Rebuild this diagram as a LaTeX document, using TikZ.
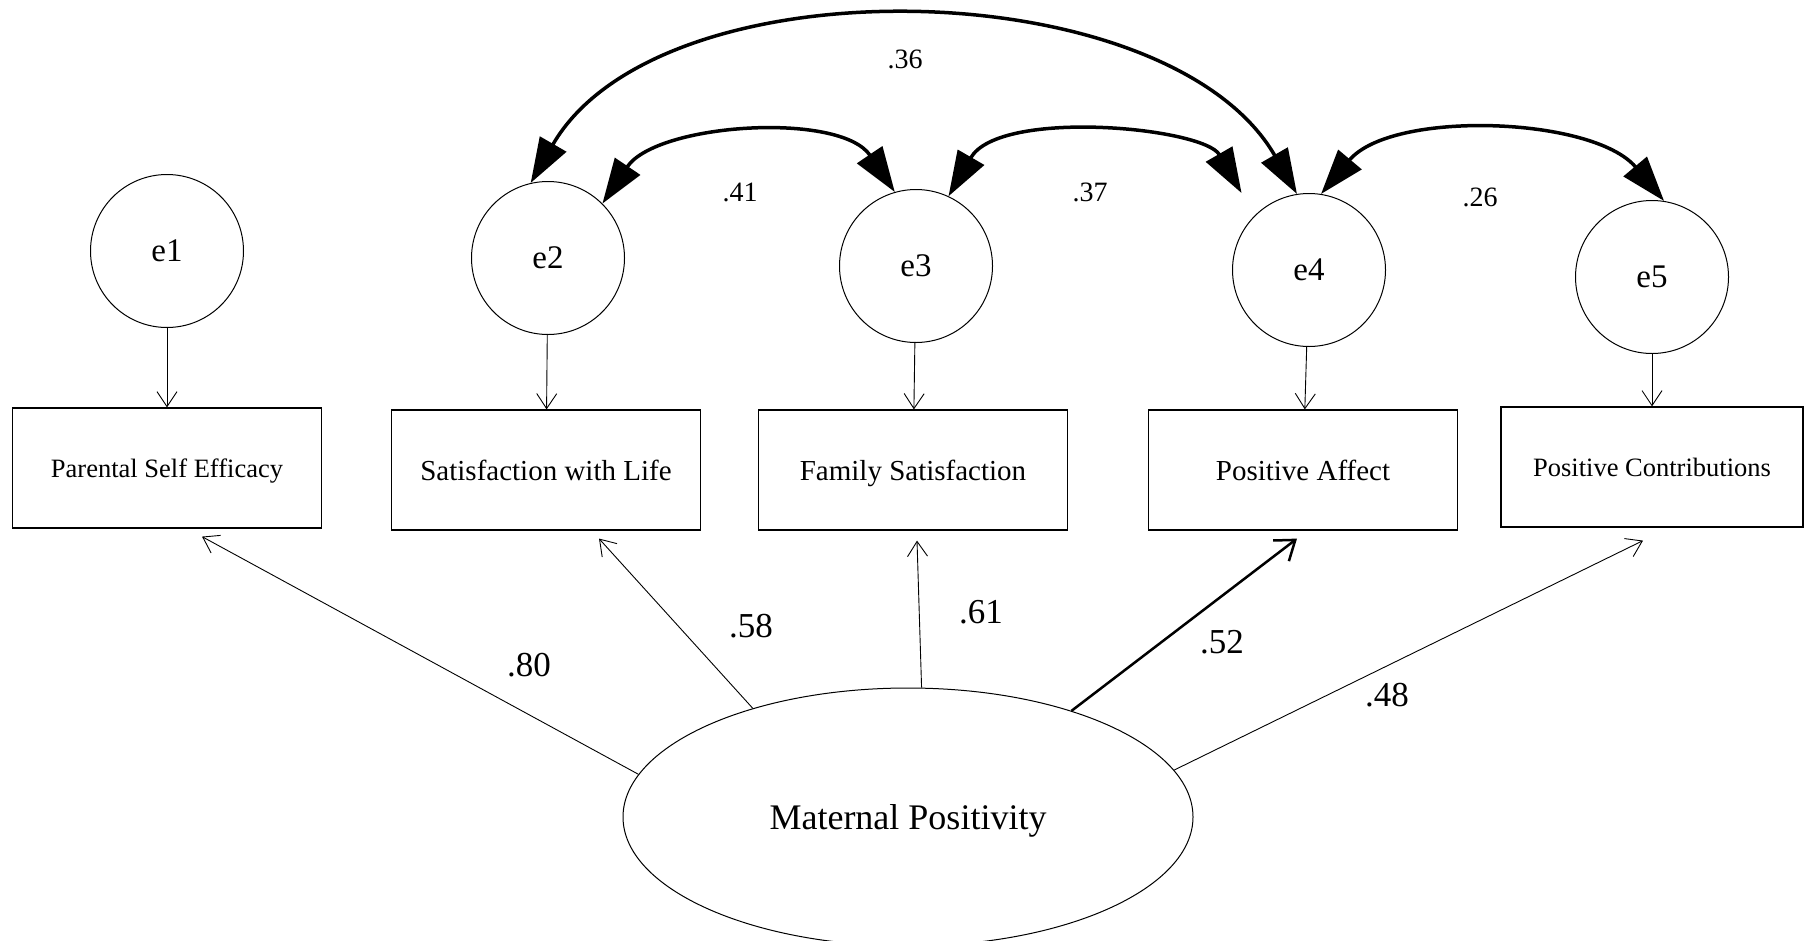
\documentclass[tikz,border=0pt]{standalone}
\usepackage{fontspec}
\setmainfont{Liberation Serif}
\usetikzlibrary{shapes.geometric}
\usetikzlibrary{arrows.meta}

\begin{document}
\begin{tikzpicture}
		[x=1pt, y=1pt,
		err/.style={circle, draw=black, line width=1pt, minimum size=153pt, inner sep=0pt, font=\fontsize{33}{38}\selectfont},
		ind/.style={rectangle, draw=black, line width=1.2pt, minimum width=309pt, minimum height=120pt, inner sep=0pt, text depth=0pt, font=\fontsize{29}{34}\selectfont},
		smalltext/.style={font=\fontsize{26.5}{31}\selectfont},
		loadarrow/.style={line width=0.9pt, -{Straight Barb[length=15pt, width=20pt]}},
		cov/.style={line width=3.5pt, {Triangle[length=45pt, width=30pt]}-{Triangle[length=45pt, width=30pt]}},
		coef/.style={font=\fontsize{35}{40}\selectfont},
		corr/.style={font=\fontsize{28}{32}\selectfont}]
		\useasboundingbox (0,0) rectangle (1804,-940);

		\node[err] (e1) at (167,-251) {e1};
		\node[err] (e2) at (548,-258) {e2};
		\node[err] (e3) at (916,-266) {e3};
		\node[err] (e4) at (1309,-270) {e4};
		\node[err] (e5) at (1652,-277) {e5};

		\node[ind, smalltext] (b1) at (167,-468) {Parental Self Efficacy};
		\node[ind] (b2) at (546,-470) {Satisfaction with Life};
		\node[ind] (b3) at (913,-470) {Family Satisfaction};
		\node[ind] (b4) at (1303,-470) {Positive Affect};
		\node[ind, smalltext, minimum width=302pt] (b5) at (1652,-467) {Positive Contributions};

		\node[ellipse, draw=black, line width=1pt, minimum width=570pt, minimum height=258pt, inner sep=0pt, text depth=0pt,
			font=\fontsize{36}{40}\selectfont] (mp) at (908,-817) {Maternal Positivity};

		\draw[loadarrow] (e1) -- (b1);
		\draw[loadarrow] (e2) -- (b2);
		\draw[loadarrow] (e3) -- (b3);
		\draw[loadarrow] (e4) -- (b4);
		\draw[loadarrow] (e5) -- (b5);

		\coordinate (t1) at ([shift={(35,-8)}]b1.south);
		\coordinate (t2) at ([shift={(53,-8)}]b2.south);
		\coordinate (t3) at ([shift={(4,-10)}]b3.south);
		\coordinate (t4) at ([shift={(-6,-8)}]b4.south);
		\coordinate (t5) at ([shift={(-9,-13)}]b5.south);

		\draw[loadarrow] (mp.171) -- (t1);
		\draw[loadarrow] (mp.145) -- (t2);
		\draw[loadarrow] (mp.84) -- (t3);
		\draw[line width=2.5pt, -{Straight Barb[length=18pt, width=26pt]}] (mp.33) -- (t4);
		\draw[loadarrow] (mp.10) -- (t5);

		\node[coef] (l80) at (529,-665) {.80};
		\node[coef] (l58) at (751,-626) {.58};
		\node[coef] (l61) at (981,-612) {.61};
		\node[coef] (l52) at (1222,-642) {.52};
		\node[coef] (l48) at (1387,-695) {.48};

		% correlated errors
		\draw[cov] (e2.103) to[out=60, in=120, looseness=0.86] (e4.99);
		\draw[cov] (e2.45) to[out=56, in=124, looseness=0.85] (e3.106);
		\draw[cov, shorten >=26pt] (e3.65) to[out=60, in=120, looseness=0.85] (e4.135);
		\draw[cov] (e4.81) to[out=50, in=130, looseness=0.82] (e5.81);

		\node[corr] (c36) at (905,-59) {.36};
		\node[corr] (c41) at (740,-192) {.41};
		\node[corr] (c37) at (1090,-192) {.37};
		\node[corr] (c26) at (1480,-197) {.26};
	\end{tikzpicture}
\end{document}
